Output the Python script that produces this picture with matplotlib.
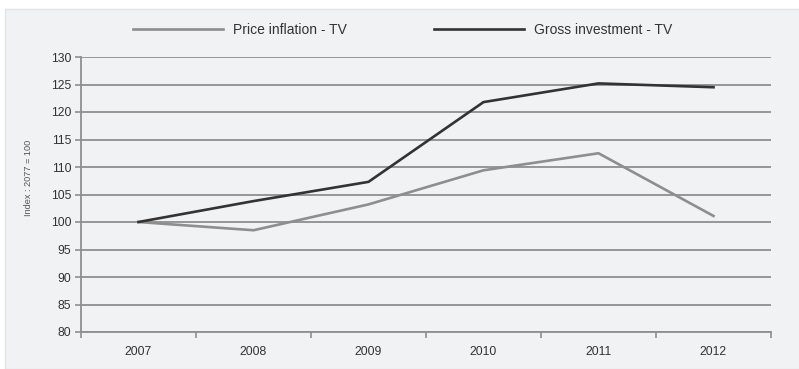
import numpy as np
import matplotlib
matplotlib.use("Agg")
import matplotlib.pyplot as plt
from matplotlib.patches import Rectangle

plt.rcParams['font.family'] = ['Liberation Sans', 'DejaVu Sans']

years = ['2007', '2008', '2009', '2010', '2011', '2012']
price_inflation = [100.0, 98.5, 103.2, 109.4, 112.5, 101.1]
gross_investment = [100.0, 103.8, 107.3, 121.8, 125.2, 124.5]
y_ticks = [80, 85, 90, 95, 100, 105, 110, 115, 120, 125, 130]

bg = '#f1f2f4'
grid_col = '#8f8f8f'
text_col = '#333333'

fig = plt.figure(figsize=(7.99, 3.69), dpi=100)
fig.patch.set_facecolor('white')
# light panel behind the chart
fig.patches.append(Rectangle((5 / 799, 0), 1, 1 - 9 / 369, transform=fig.transFigure,
                             facecolor=bg, edgecolor='#e2e3e5', linewidth=1.0, zorder=-10))

ax = fig.add_axes([81 / 799, 37 / 369, 690 / 799, 275 / 369])
ax.set_zorder(1)
ax.set_facecolor(bg)

x = np.arange(len(years))
ax.plot(x, price_inflation, color='#8e8e8e', lw=1.9, label='Price inflation - TV', zorder=3)
ax.plot(x, gross_investment, color='#333333', lw=1.9, label='Gross investment - TV', zorder=3)

ax.set_xlim(-0.5, len(years) - 0.5)
ax.set_ylim(80, 130)
ax.set_yticks(y_ticks)
ax.set_yticklabels([str(v) for v in y_ticks])
for v in y_ticks:
    ax.axhline(v, color=grid_col, lw=1.3, zorder=1)

ax.set_xticks(x)
ax.set_xticklabels(years)
ax.set_xticks(np.arange(len(years) + 1) - 0.5, minor=True)
ax.tick_params(axis='x', which='major', length=0, pad=10, labelsize=8.7, labelcolor=text_col)
ax.tick_params(axis='x', which='minor', length=4, width=1.2, color=grid_col, direction='out')
ax.tick_params(axis='y', length=4, width=1.2, color=grid_col, labelsize=8.7, labelcolor=text_col, pad=3)

for s in ['top', 'right']:
    ax.spines[s].set_visible(False)
ax.spines['left'].set_color(grid_col)
ax.spines['left'].set_linewidth(1.3)
ax.spines['bottom'].set_color(grid_col)
ax.spines['bottom'].set_linewidth(1.3)

ax.set_ylabel('Index : 2077 = 100', fontsize=6.6, color='#555555')
ax.yaxis.set_label_coords(-48 / 690, (332 - 178) / 275)

leg = ax.legend(loc='center', bbox_to_anchor=(0.5 + 3 / 799, 1.0 - 30 / 369), bbox_transform=fig.transFigure,
                ncol=2, frameon=False, fontsize=10, handlelength=6.5, handletextpad=0.7,
                columnspacing=6.3, labelcolor=text_col)

fig.savefig('out.png', dpi=100, facecolor=fig.get_facecolor())
